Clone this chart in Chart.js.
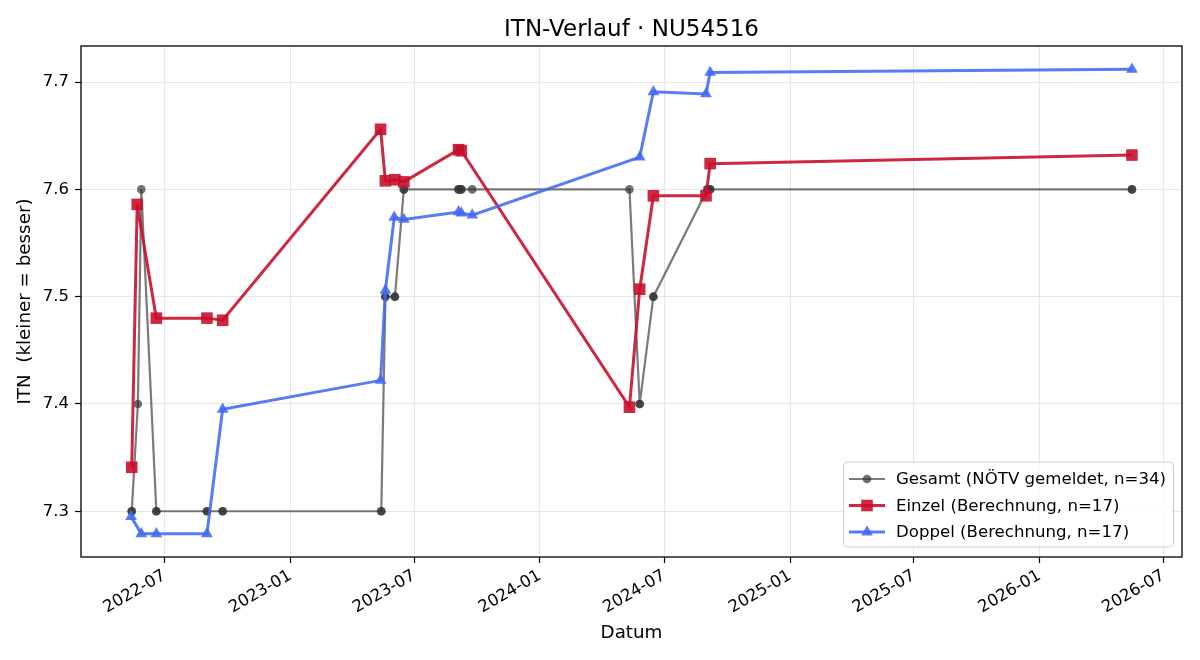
<!DOCTYPE html>
<html lang="de">
<head>
  <meta charset="UTF-8">
  <title>ITN-Verlauf · NU54516</title>
  <script src="https://cdn.jsdelivr.net/npm/chart.js"></script>
  <style>
    html, body { margin: 0; padding: 0; background: #fff; }
    #wrap { width: 1200px; height: 660px; }
  </style>
</head>
<body>
<div id="wrap"><canvas id="itnChart" width="1200" height="660"></canvas></div>
<script>
  // Gesamt (NÖTV gemeldet) - mehrere Meldungen am selben Tag liegen übereinander
  const gesamtDates = [
    '2022-05-14', '2022-05-14', '2022-05-23', '2022-05-28', '2022-06-19', '2022-06-19',
    '2022-09-01', '2022-09-01', '2022-09-24', '2022-09-24', '2023-05-14', '2023-05-14',
    '2023-05-20', '2023-05-20', '2023-06-03', '2023-06-03', '2023-06-16', '2023-06-16',
    '2023-09-04', '2023-09-04', '2023-09-08', '2023-09-08', '2023-09-24', '2024-05-11',
    '2024-05-26', '2024-05-26', '2024-06-15', '2024-06-15', '2024-09-02', '2024-09-02',
    '2024-09-06', '2024-09-06', '2026-05-16', '2026-05-16'
  ];
  const gesamtValues = [
    7.3, 7.3, 7.4, 7.6, 7.3, 7.3,
    7.3, 7.3, 7.3, 7.3, 7.3, 7.3,
    7.5, 7.5, 7.5, 7.5, 7.6, 7.6,
    7.6, 7.6, 7.6, 7.6, 7.6, 7.6,
    7.4, 7.4, 7.5, 7.5, 7.6, 7.6,
    7.6, 7.6, 7.6, 7.6
  ];

  // Einzel (Berechnung)
  const einzelDates = [
    '2022-05-14', '2022-05-22', '2022-06-19', '2022-09-01', '2022-09-24', '2023-05-13',
    '2023-05-20', '2023-06-03', '2023-06-16', '2023-09-04', '2023-09-08', '2024-05-11',
    '2024-05-26', '2024-06-15', '2024-08-31', '2024-09-06', '2026-05-16'
  ];
  const einzelValues = [
    7.341, 7.586, 7.480, 7.480, 7.478, 7.656,
    7.608, 7.609, 7.607, 7.637, 7.636, 7.397,
    7.507, 7.594, 7.594, 7.624, 7.632
  ];

  // Doppel (Berechnung)
  const doppelDates = [
    '2022-05-13', '2022-05-28', '2022-06-19', '2022-09-01', '2022-09-24', '2023-05-13',
    '2023-05-20', '2023-06-02', '2023-06-16', '2023-09-04', '2023-09-08', '2023-09-24',
    '2024-05-26', '2024-06-15', '2024-08-31', '2024-09-06', '2026-05-16'
  ];
  const doppelValues = [
    7.295, 7.279, 7.279, 7.279, 7.395, 7.422,
    7.506, 7.574, 7.572, 7.579, 7.578, 7.576,
    7.630, 7.691, 7.689, 7.709, 7.712
  ];

  const xTickDates = [
    '2022-07-01', '2023-01-01', '2023-07-01', '2024-01-01', '2024-07-01',
    '2025-01-01', '2025-07-01', '2026-01-01', '2026-07-01'
  ];
  const yTickValues = [7.3, 7.4, 7.5, 7.6, 7.7];

  const legendLabels = [
    'Gesamt (NÖTV gemeldet, n=34)',
    'Einzel (Berechnung, n=17)',
    'Doppel (Berechnung, n=17)'
  ];

  const FONT = "'DejaVu Sans', sans-serif";
  const GRAY_LINE = 'rgba(60,60,60,0.68)';
  const GRAY_DOT = 'rgba(51,51,51,0.7)';
  const RED = 'rgba(200,16,46,0.9)';
  const BLUE = 'rgba(65,105,245,0.88)';

  function toTs(s) {
    const [y, m, d] = s.split('-').map(Number);
    return Date.UTC(y, m - 1, d);
  }
  function pairs(dates, values) {
    return dates.map((d, i) => ({ x: toTs(d), y: values[i] }));
  }

  // 5 % Rand wie bei matplotlib
  const allX = [...gesamtDates, ...einzelDates, ...doppelDates].map(toTs);
  const allY = [...gesamtValues, ...einzelValues, ...doppelValues];
  const xMin = Math.min(...allX), xMax = Math.max(...allX);
  const yMin = Math.min(...allY), yMax = Math.max(...allY);
  const xPad = (xMax - xMin) * 0.05, yPad = (yMax - yMin) * 0.05;

  function drawMarker(ctx, style, x, y, color) {
    ctx.fillStyle = color;
    ctx.beginPath();
    if (style === 'circle') {
      ctx.arc(x, y, 4.3, 0, Math.PI * 2);
    } else if (style === 'rect') {
      ctx.rect(x - 5.8, y - 5.8, 11.6, 11.6);
    } else {
      const r = 6.8;
      ctx.moveTo(x, y - r);
      ctx.lineTo(x + r * 0.866, y + r / 2);
      ctx.lineTo(x - r * 0.866, y + r / 2);
      ctx.closePath();
    }
    ctx.fill();
  }

  const decorPlugin = {
    id: 'decor',
    afterDatasetsDraw(chart) {
      const { ctx, chartArea: a } = chart;
      ctx.save();
      // Rahmen
      ctx.strokeStyle = '#000';
      ctx.lineWidth = 1.3;
      ctx.strokeRect(a.left, a.top, a.right - a.left, a.bottom - a.top);

      // Titel
      ctx.fillStyle = '#000';
      ctx.font = '23px ' + FONT;
      ctx.textAlign = 'center';
      ctx.textBaseline = 'alphabetic';
      ctx.fillText('ITN-Verlauf · NU54516', (a.left + a.right) / 2, 35.5);

      // Legende unten rechts
      const bx = 843.5, by = 462, bw = 330, bh = 85;
      ctx.fillStyle = 'rgba(255,255,255,0.8)';
      ctx.strokeStyle = '#cccccc';
      ctx.lineWidth = 1;
      ctx.beginPath();
      ctx.roundRect(bx, by, bw, bh, 4);
      ctx.fill();
      ctx.stroke();

      const rows = [
        { line: GRAY_LINE, dot: GRAY_DOT, style: 'circle', lw: 2.2 },
        { line: RED, dot: RED, style: 'rect', lw: 3 },
        { line: BLUE, dot: BLUE, style: 'triangle', lw: 3 }
      ];
      rows.forEach((r, i) => {
        const y = 479 + i * 26.5;
        ctx.strokeStyle = r.line;
        ctx.lineWidth = r.lw;
        ctx.beginPath();
        ctx.moveTo(849, y);
        ctx.lineTo(885, y);
        ctx.stroke();
        drawMarker(ctx, r.style, 867, y, r.dot);
        ctx.fillStyle = '#000';
        ctx.font = '16.6px ' + FONT;
        ctx.textAlign = 'left';
        ctx.textBaseline = 'middle';
        ctx.fillText(legendLabels[i], 896, y + 1);
      });
      ctx.restore();
    }
  };

  new Chart(document.getElementById('itnChart'), {
    type: 'scatter',
    data: {
      datasets: [
        {
          label: legendLabels[0],
          data: pairs(gesamtDates, gesamtValues),
          showLine: true,
          borderColor: GRAY_LINE,
          borderWidth: 2.2,
          pointStyle: 'circle',
          pointRadius: 4.3,
          pointBackgroundColor: GRAY_DOT,
          pointBorderWidth: 0,
          order: 3
        },
        {
          label: legendLabels[1],
          data: pairs(einzelDates, einzelValues),
          showLine: true,
          borderColor: RED,
          borderWidth: 3,
          pointStyle: 'rect',
          pointRadius: 8.2,
          pointBackgroundColor: RED,
          pointBorderWidth: 0,
          order: 2
        },
        {
          label: legendLabels[2],
          data: pairs(doppelDates, doppelValues),
          showLine: true,
          borderColor: BLUE,
          borderWidth: 3,
          pointStyle: 'triangle',
          pointRadius: 6.8,
          pointBackgroundColor: BLUE,
          pointBorderWidth: 0,
          order: 1
        }
      ]
    },
    options: {
      responsive: false,
      animation: false,
      devicePixelRatio: 1,
      layout: { padding: { top: 46, right: 18, bottom: 0, left: 0 } },
      plugins: {
        legend: { display: false },
        title: { display: false },
        tooltip: { enabled: false }
      },
      scales: {
        x: {
          type: 'linear',
          bounds: 'data',
          min: xMin - xPad,
          max: xMax + xPad,
          afterBuildTicks: (s) => { s.ticks = xTickDates.map(d => ({ value: toTs(d) })); },
          afterFit: (s) => { s.height = 103; },
          grid: { color: '#e6e6e6', lineWidth: 1, drawTicks: true, tickLength: 6, tickColor: '#000', tickWidth: 1.2 },
          border: { display: false },
          ticks: {
            autoSkip: false,
            minRotation: 30,
            maxRotation: 30,
            padding: 3,
            color: '#000',
            font: { family: FONT, size: 16.5 },
            callback: (v) => {
              const d = new Date(v);
              return d.getUTCFullYear() + '-' + String(d.getUTCMonth() + 1).padStart(2, '0');
            }
          },
          title: {
            display: true,
            text: 'Datum',
            color: '#000',
            font: { family: FONT, size: 18.3 },
            padding: { top: 0, bottom: 16 }
          }
        },
        y: {
          type: 'linear',
          bounds: 'data',
          min: yMin - yPad,
          max: yMax + yPad,
          afterBuildTicks: (s) => { s.ticks = yTickValues.map(v => ({ value: v })); },
          afterFit: (s) => { s.width = 81; },
          grid: { color: '#e6e6e6', lineWidth: 1, drawTicks: true, tickLength: 6, tickColor: '#000', tickWidth: 1.2 },
          border: { display: false },
          ticks: {
            padding: 6,
            color: '#000',
            font: { family: FONT, size: 16.5 },
            callback: (v) => v.toFixed(1)
          },
          title: {
            display: true,
            text: 'ITN  (kleiner = besser)',
            color: '#000',
            font: { family: FONT, size: 18.3 },
            padding: { top: 14, bottom: 0 }
          }
        }
      }
    },
    plugins: [decorPlugin]
  });
</script>
</body>
</html>
